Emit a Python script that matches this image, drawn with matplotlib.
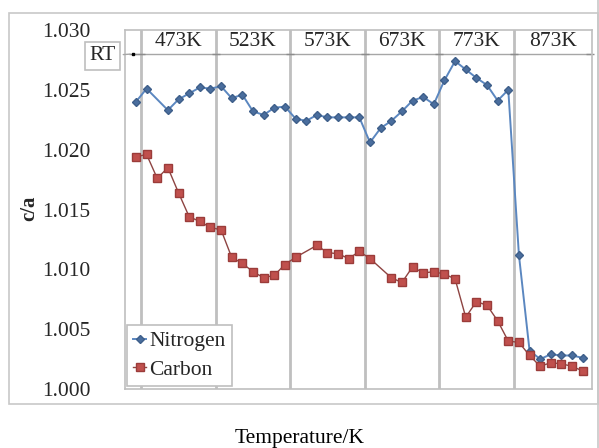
import matplotlib
matplotlib.use("Agg")
import matplotlib.pyplot as plt
from matplotlib.patches import Rectangle
from matplotlib.lines import Line2D

plt.rcParams['font.family'] = ['Liberation Serif', 'DejaVu Serif']

# ---------------- data ----------------
segment_labels = ["473K", "523K", "573K", "673K", "773K", "873K"]
segment_starts = [0.5, 7.5, 14.5, 21.5, 28.5, 35.5]
rt_label = "RT"
y_ticks = [1.000, 1.005, 1.010, 1.015, 1.020, 1.025, 1.030]

nitrogen_idx = [0, 1, 3, 4, 5, 6, 7, 8, 9, 10, 11, 12, 13, 14, 15, 16, 17, 18, 19, 20,
                21, 22, 23, 24, 25, 26, 27, 28, 29, 30, 31, 32, 33, 34, 35, 36, 37, 38,
                39, 40, 41, 42]
nitrogen_val = [1.0240, 1.0251, 1.0233, 1.0242, 1.0247, 1.0252, 1.0251, 1.0253, 1.0243,
                1.0246, 1.0232, 1.0229, 1.0235, 1.0236, 1.0226, 1.0224, 1.0229, 1.0227,
                1.0227, 1.0227, 1.0227, 1.0206, 1.0218, 1.0224, 1.0232, 1.0241, 1.0244,
                1.0238, 1.0258, 1.0274, 1.0267, 1.0260, 1.0254, 1.0241, 1.0250, 1.0112,
                1.0032, 1.0025, 1.0029, 1.0028, 1.0028, 1.0026]

carbon_idx = [0, 1, 2, 3, 4, 5, 6, 7, 8, 9, 10, 11, 12, 13, 14, 15, 17, 18, 19, 20, 21,
              22, 24, 25, 26, 27, 28, 29, 30, 31, 32, 33, 34, 35, 36, 37, 38, 39, 40, 41,
              42]
carbon_val = [1.0194, 1.0196, 1.0176, 1.0185, 1.0164, 1.0144, 1.0140, 1.0135, 1.0133,
              1.0110, 1.0105, 1.0098, 1.0093, 1.0095, 1.0104, 1.0110, 1.0120, 1.0114,
              1.0113, 1.0109, 1.0115, 1.0109, 1.0093, 1.0089, 1.0102, 1.0097, 1.0098,
              1.0096, 1.0092, 1.0060, 1.0073, 1.0070, 1.0057, 1.0040, 1.0039, 1.0028,
              1.0019, 1.0022, 1.0021, 1.0019, 1.0015]

rt_pos = -0.28
marker_level = 1.028

# ---------------- figure ----------------
W, H = 599, 448
fig = plt.figure(figsize=(W / 100, H / 100), dpi=100)
fig.patch.set_facecolor('white')

# outer chart frame
fig.add_artist(Rectangle((9 / W, 1 - 404 / H), (598 - 9) / W, (404 - 13) / H,
                         transform=fig.transFigure, fill=False,
                         edgecolor='#C8C8C8', lw=1.2))
fig.add_artist(Line2D([598 / W, 598 / W], [0, 1], transform=fig.transFigure,
                      color='#C8C8C8', lw=1.2))

ax = fig.add_axes([125 / W, 1 - 389 / H, (592 - 125) / W, (389 - 30) / H])
ax.set_xlim(-1.03, 42.87)
ax.set_ylim(1.000, 1.030)

for s in ax.spines.values():
    s.set_color('#BFBFBF')
    s.set_linewidth(1.2)

# segment separators
for b in segment_starts:
    ax.axvline(b, color='#BFBFBF', lw=2, zorder=1)

# auxiliary marker line at top
xmax = ax.get_xlim()[1]
ax.plot([rt_pos] + segment_starts + [xmax - 0.15],
        [marker_level] * (len(segment_starts) + 2),
        color='#A6A6A6', lw=1, marker='_', markersize=6, mec='#8C8C8C', zorder=2,
        clip_on=False)
ax.plot([rt_pos], [marker_level], marker='s', markersize=2, color='black', zorder=3)

# segment labels
ends = segment_starts[1:] + [xmax]
for lab, a, b in zip(segment_labels, segment_starts, ends):
    ax.text((a + b) / 2, 1.0290, lab, ha='center', va='center', fontsize=15.5,
            color='#262626', zorder=4)

# RT callout
ax.annotate(rt_label, xy=(rt_pos, marker_level), xytext=(-3.15, 1.02783),
            textcoords='data', ha='center', va='center', fontsize=15.5,
            color='#262626', annotation_clip=False,
            bbox=dict(boxstyle='square,pad=0.2', fc='white', ec='#BFBFBF', lw=1.2),
            arrowprops=dict(arrowstyle='-', color='#A6A6A6', lw=1))

# series
ax.plot(nitrogen_idx, nitrogen_val, color='#5B87C0', lw=1.4, marker='D',
        markersize=4.2, mfc='#4A6E9E', mec='#3E5F8A', label='Nitrogen', zorder=5)
ax.plot(carbon_idx, carbon_val, color='#8E4442', lw=1.0, marker='s',
        markersize=6.2, mfc='#C0504D', mec='#9B3C3A', label='Carbon', zorder=6)

# axes ticks
ax.set_xticks([])
ax.set_yticks(y_ticks)
ax.set_yticklabels([f"{v:.3f}" for v in y_ticks], fontsize=15.5, color='#262626')
ax.tick_params(axis='y', length=0, pad=25)

leg = ax.legend(loc='lower left', bbox_to_anchor=(0.004, 0.008), fontsize=15.5,
                frameon=True, fancybox=False, edgecolor='#BFBFBF', framealpha=1,
                handlelength=0.6, handletextpad=0.15, borderpad=0.3,
                labelspacing=0.38, borderaxespad=0)
leg.get_frame().set_linewidth(1.2)
for t in leg.get_texts():
    t.set_color('#262626')

fig.text(29 / W, 1 - 208 / H, 'c/a', rotation=90, ha='center', va='center',
         fontsize=15, fontweight='bold', color='#262626')
fig.text(300 / W, 1 - 438 / H, 'Temperature/K', ha='center', va='center',
         fontsize=15.5, color='black')

fig.savefig('out.png', dpi=100, facecolor='white')
